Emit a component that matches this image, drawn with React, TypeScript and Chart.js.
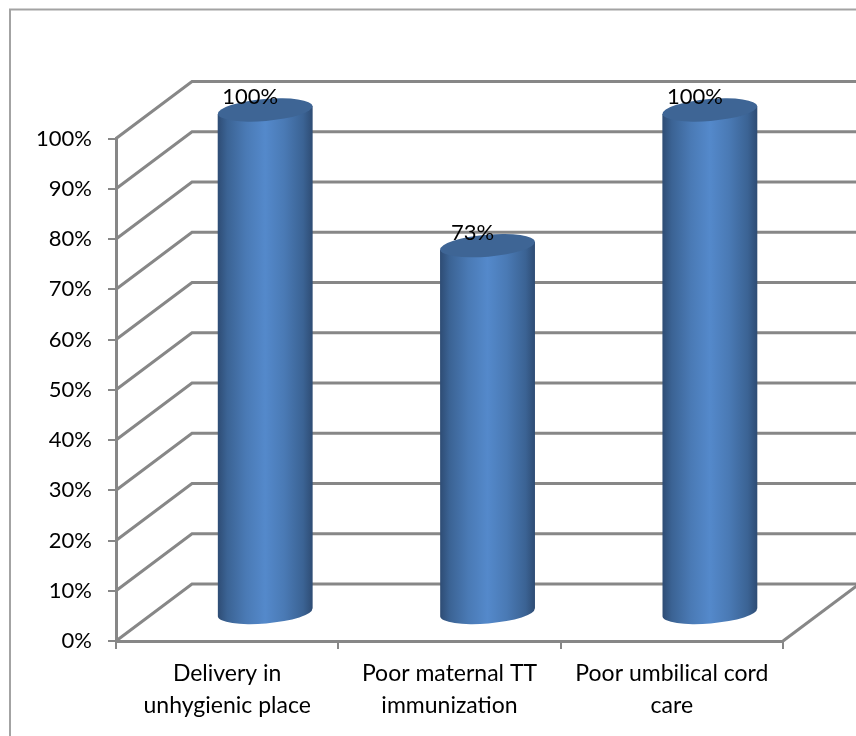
import React, { useEffect, useRef } from "react";
import { Chart, registerables } from "chart.js";

Chart.register(...registerables);

const categories = [
  ["Delivery in", "unhygienic place"],
  ["Poor maternal TT", "immunization"],
  ["Poor umbilical cord", "care"],
];
const seriesValues = [100, 73, 100];
const yTicksStep = 10;

const FONT = "Lato";
const LINE = "#878787";
const DEPTH_X = 76;
const DEPTH_Y = 57;
const MID_X = 38;
const MID_Y = 28.5;
const RY = 11;
const TILT = (-4.8 * Math.PI) / 180;

const scene3d = {
  id: "scene3d",
  beforeDraw(chart: any) {
    const { ctx } = chart;
    ctx.save();
    ctx.strokeStyle = "#a3a3a3";
    ctx.lineWidth = 2;
    ctx.strokeRect(10, 9.5, 1200, 1200);
    ctx.restore();
  },
  beforeDatasetsDraw(chart: any) {
    const { ctx, chartArea, scales } = chart;
    const { left, right, bottom } = chartArea;
    ctx.save();
    ctx.strokeStyle = LINE;
    ctx.lineWidth = 3;
    ctx.lineJoin = "miter";
    scales.y.ticks.forEach((t: any) => {
      const y = scales.y.getPixelForValue(t.value);
      ctx.beginPath();
      ctx.moveTo(left, y);
      ctx.lineTo(left + DEPTH_X, y - DEPTH_Y);
      ctx.lineTo(right + DEPTH_X, y - DEPTH_Y);
      ctx.stroke();
    });
    ctx.beginPath();
    ctx.moveTo(right, bottom);
    ctx.lineTo(right + DEPTH_X, bottom - DEPTH_Y);
    ctx.stroke();
    ctx.restore();
  },
  beforeDatasetDraw(chart: any, args: any) {
    const { ctx, scales } = chart;
    const meta = args.meta;
    const y0 = scales.y.getPixelForValue(0) - MID_Y;
    meta.data.forEach((bar: any) => {
      const cx = bar.x + MID_X;
      const top = bar.y - MID_Y;
      const rx = bar.width / 2;
      const dy = Math.sin(-TILT) * rx;
      const grad = ctx.createLinearGradient(cx - rx, 0, cx + rx, 0);
      grad.addColorStop(0, "#2e4c74");
      grad.addColorStop(0.1, "#3b6394");
      grad.addColorStop(0.3, "#4a7ab5");
      grad.addColorStop(0.5, "#5489cb");
      grad.addColorStop(0.7, "#4a7ab5");
      grad.addColorStop(0.9, "#3b6394");
      grad.addColorStop(1, "#2e4c74");
      ctx.save();
      ctx.fillStyle = grad;
      ctx.beginPath();
      ctx.moveTo(cx - rx, top + dy);
      ctx.lineTo(cx + rx, top - dy);
      ctx.lineTo(cx + rx, y0 - dy);
      ctx.ellipse(cx, y0, rx, RY, TILT, 0, Math.PI);
      ctx.closePath();
      ctx.fill();
      ctx.fillStyle = "#3e6595";
      ctx.beginPath();
      ctx.ellipse(cx, top, rx, RY, TILT, 0, Math.PI * 2);
      ctx.fill();
      ctx.restore();
    });
    return false;
  },
  afterDatasetsDraw(chart: any) {
    const { ctx } = chart;
    const meta = chart.getDatasetMeta(0);
    ctx.save();
    ctx.fillStyle = "#000";
    ctx.font = `22px ${FONT}`;
    ctx.textAlign = "center";
    ctx.textBaseline = "middle";
    meta.data.forEach((bar: any, i: number) => {
      ctx.fillText(`${seriesValues[i]}%`, bar.x + MID_X - 15, bar.y - MID_Y - 13);
    });
    ctx.restore();
  },
};

export default function App() {
  const ref = useRef<HTMLCanvasElement>(null);
  useEffect(() => {
    const chart = new Chart(ref.current as HTMLCanvasElement, {
      type: "bar",
      data: {
        labels: categories as any,
        datasets: [
          {
            label: "Series1",
            data: seriesValues,
            backgroundColor: "#4f81bd",
            barPercentage: 0.427,
            categoryPercentage: 1,
          },
        ],
      },
      options: {
        responsive: false,
        animation: false,
        layout: { padding: { top: 138.5, right: 73, bottom: 0, left: 0 } },
        plugins: { legend: { display: false }, tooltip: { enabled: false } },
        scales: {
          x: {
            afterFit: (s: any) => {
              s.height = 95;
            },
            border: { display: true, color: LINE, width: 3 },
            grid: { drawOnChartArea: false, drawTicks: true, tickLength: 8, color: LINE, lineWidth: 2 },
            ticks: {
              color: "#000",
              font: { family: FONT, size: 23, lineHeight: 1.38 },
              maxRotation: 0,
              padding: 9,
            },
          },
          y: {
            min: 0,
            max: 100,
            afterFit: (s: any) => {
              s.width = 116;
            },
            border: { display: true, color: LINE, width: 3 },
            grid: { drawOnChartArea: false, drawTicks: true, tickLength: 8, color: LINE, lineWidth: 2 },
            ticks: {
              stepSize: yTicksStep,
              color: "#000",
              font: { family: FONT, size: 22 },
              padding: 16,
              callback: (v: any) => `${v}%`,
            },
          },
        },
      },
      plugins: [scene3d],
    } as any);
    return () => chart.destroy();
  }, []);
  return (
    <div style={{ position: "fixed", left: 0, top: 0, width: 856, height: 736, background: "#fff" }}>
      <canvas ref={ref} width={856} height={736} style={{ display: "block" }} />
    </div>
  );
}
